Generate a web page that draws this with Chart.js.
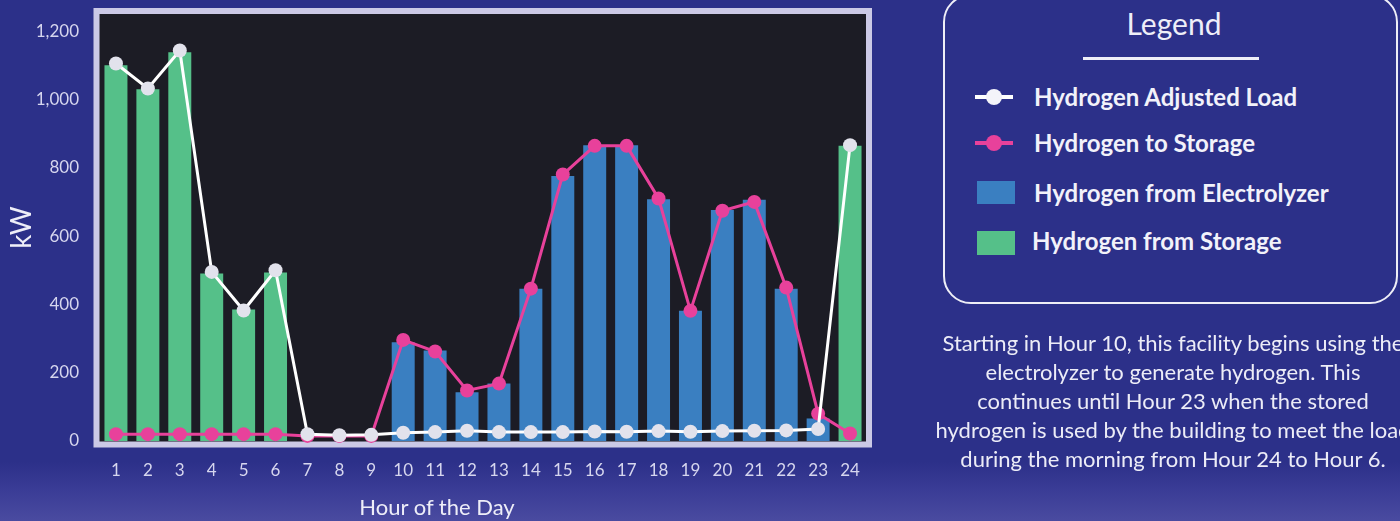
<!DOCTYPE html>
<html>
<head>
<meta charset="utf-8">
<title>Hydrogen hourly balance</title>
<script src="https://cdn.jsdelivr.net/npm/chart.js@4/dist/chart.umd.min.js"></script>
<style>
  html, body { margin: 0; padding: 0; width: 1400px; height: 521px; overflow: hidden; }
  body {
    position: relative;
    font-family: Lato, "Open Sans", sans-serif;
    background: linear-gradient(180deg, #2c3089 0px, #2c3089 462px, #3a3c96 490px, #4a4ba0 521px);
    color: #eeeef8;
  }
  #chartBox { position: absolute; left: 0; top: 0; width: 900px; height: 521px; }
  #xTitle {
    position: absolute; left: 337px; width: 200px; top: 493px;
    text-align: center; font-size: 22px; line-height: 28px; color: #eeeef8;
  }
  #legendFrame {
    position: absolute; left: 943px; top: -6px; width: 455px; height: 310px;
    box-sizing: border-box; border: 2.5px solid #eeeef7; border-radius: 28px;
  }
  #legendTitle {
    position: absolute; left: 1074px; width: 200px; top: 5px;
    text-align: center; font-size: 30px; line-height: 36px; color: #eeeef8;
  }
  #legendRule { position: absolute; left: 1083px; top: 57px; width: 176px; height: 3px; background: #eeeef7; }
  .lg-text {
    position: absolute; left: 1034px; font-size: 24px; font-weight: 700;
    line-height: 28px; white-space: nowrap; color: #f2f2fa;
  }
  .lg-line { position: absolute; left: 975px; width: 38px; height: 4px; }
  .lg-dot { position: absolute; width: 16px; height: 16px; border-radius: 50%; }
  .lg-box { position: absolute; left: 977px; width: 38px; }
  #note {
    position: absolute; left: 873px; width: 600px; top: 328px;
    text-align: center; font-size: 22px; line-height: 29px; white-space: nowrap; color: #ececf7;
  }
</style>
</head>
<body>
<div id="chartBox"><canvas id="chart" width="900" height="521"></canvas></div>
<div id="xTitle">Hour of the Day</div>
<div id="legendFrame"></div>
<div id="legendTitle">Legend</div>
<div id="legendRule"></div>
<div id="legendItems"></div>
<div id="note">Starting in Hour 10, this facility begins using the<br>electrolyzer to generate hydrogen. This<br>continues until Hour 23 when the stored<br>hydrogen is used by the building to meet the load<br>during the morning from Hour 24 to Hour 6.</div>

<script>
// Hour of the day (category axis)
const hours = ['1','2','3','4','5','6','7','8','9','10','11','12','13','14','15','16','17','18','19','20','21','22','23','24'];

// Value axis ticks, kW
const yTicks = [0, 200, 400, 600, 800, 1000, 1200];

// Series, kW per hour
const adjustedLoad     = [1105, 1032, 1143, 495, 382, 500, 20, 17, 18, 24, 26, 30, 26, 26, 26, 28, 27, 29, 27, 29, 30, 31, 35, 866];
const toStorage        = [20, 20, 20, 20, 20, 20, 15, 15, 15, 296, 262, 148, 168, 446, 780, 864, 864, 710, 381, 674, 700, 449, 80, 22];
const fromElectrolyzer = [0, 0, 0, 0, 0, 0, 0, 0, 0, 289, 265, 143, 168, 446, 776, 866, 866, 708, 381, 676, 706, 446, 66, 0];
const fromStorage      = [1100, 1030, 1138, 490, 385, 493, 0, 0, 0, 0, 0, 0, 0, 0, 0, 0, 0, 0, 0, 0, 0, 0, 0, 864];

const seriesNames = ['Hydrogen Adjusted Load', 'Hydrogen to Storage', 'Hydrogen from Electrolyzer', 'Hydrogen from Storage'];

const C = {
  load: '#ffffff', loadDot: '#e2e2ec',
  pink: '#e8419b',
  blue: '#3a7fc1',
  green: '#55c089',
  plot: '#1c1c25',
  frame: '#cbc9e6',
  tick: '#d6d6ee'
};

// Dark plot panel with a light frame around it
const plotFrame = {
  id: 'plotFrame',
  beforeDraw(chart) {
    const { ctx, chartArea: a } = chart;
    ctx.save();
    ctx.fillStyle = C.plot;
    ctx.fillRect(a.left - 1, a.top, a.right - a.left + 1, a.bottom - a.top + 1);
    ctx.strokeStyle = C.frame;
    ctx.lineWidth = 6;
    ctx.strokeRect(a.left - 3.5, a.top - 3, (a.right - a.left) + 6.5, (a.bottom - a.top) + 6.5);
    ctx.restore();
  }
};

const tickFont = { family: 'Lato', size: 17 };

new Chart(document.getElementById('chart'), {
  type: 'bar',
  data: {
    labels: hours,
    datasets: [
      {
        type: 'line', label: seriesNames[0], data: adjustedLoad,
        borderColor: C.load, borderWidth: 3, tension: 0,
        pointRadius: 7, pointBackgroundColor: C.loadDot, pointBorderWidth: 0,
        clip: false
      },
      {
        type: 'line', label: seriesNames[1], data: toStorage,
        borderColor: C.pink, borderWidth: 3, tension: 0,
        pointRadius: 7, pointBackgroundColor: C.pink, pointBorderWidth: 0,
        clip: false
      },
      {
        type: 'bar', label: seriesNames[2], data: fromElectrolyzer,
        backgroundColor: C.blue, grouped: false,
        categoryPercentage: 0.8, barPercentage: 0.9
      },
      {
        type: 'bar', label: seriesNames[3], data: fromStorage,
        backgroundColor: C.green, grouped: false,
        categoryPercentage: 0.8, barPercentage: 0.9
      }
    ]
  },
  options: {
    responsive: false,
    animation: false,
    layout: { padding: { left: 0, top: 14, right: 34, bottom: 0 } },
    plugins: { legend: { display: false }, tooltip: { enabled: false } },
    scales: {
      x: {
        grid: { display: false, drawTicks: false },
        border: { display: false },
        ticks: { color: C.tick, font: tickFont, padding: 19, maxRotation: 0, autoSkip: false },
        afterFit(scale) {
          scale.height = 80;
          scale.paddingLeft = 0; scale.paddingRight = 0;
        }
      },
      y: {
        min: 0, max: 1250,
        grid: { display: false, drawTicks: false },
        border: { display: false },
        afterBuildTicks(scale) { scale.ticks = yTicks.map(v => ({ value: v })); },
        ticks: {
          color: C.tick, font: tickFont, padding: 21,
          callback: v => Number(v).toLocaleString('en-US')
        },
        title: {
          display: true, text: 'kW', color: '#eeeef8',
          font: { family: 'Lato', size: 28 },
          padding: { top: 5, bottom: 0 }
        },
        afterFit(scale) {
          scale.width = 100;
          scale.paddingTop = 0; scale.paddingBottom = 0;
        }
      }
    }
  },
  plugins: [plotFrame]
});

// Legend panel entries
const legendRows = [
  { name: seriesNames[0], kind: 'line', color: C.load, dot: '#f4f4fa', y: 97 },
  { name: seriesNames[1], kind: 'line', color: C.pink, dot: C.pink, y: 143 },
  { name: seriesNames[2], kind: 'box',  color: C.blue, y: 193, h: 23 },
  { name: seriesNames[3], kind: 'box',  color: C.green, y: 243, h: 24 }
];
const holder = document.getElementById('legendItems');
legendRows.forEach((r, i) => {
  if (r.kind === 'line') {
    const ln = document.createElement('div');
    ln.className = 'lg-line';
    ln.style.top = (r.y - 2) + 'px';
    ln.style.background = r.color;
    holder.appendChild(ln);
    const d = document.createElement('div');
    d.className = 'lg-dot';
    d.style.left = '986px';
    d.style.top = (r.y - 8) + 'px';
    d.style.background = r.dot;
    holder.appendChild(d);
  } else {
    const b = document.createElement('div');
    b.className = 'lg-box';
    b.style.top = (r.y - Math.round(r.h / 2)) + 'px';
    b.style.height = r.h + 'px';
    b.style.background = r.color;
    holder.appendChild(b);
  }
  const t = document.createElement('div');
  t.className = 'lg-text';
  t.style.top = (r.y - 14 - (i === 3 ? 2 : 0)) + 'px';
  if (i === 3) t.style.left = '1032px';
  t.textContent = r.name;
  holder.appendChild(t);
});
</script>
</body>
</html>
